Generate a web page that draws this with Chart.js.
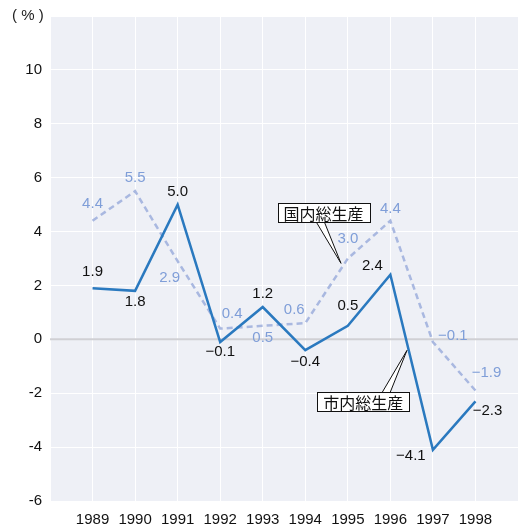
<!DOCTYPE html>
<html>
<head>
<meta charset="utf-8">
<script src="https://cdn.jsdelivr.net/npm/chart.js@4.4.1/dist/chart.umd.min.js"></script>
<style>
  html, body { margin: 0; padding: 0; background: #ffffff; }
  #wrap { width: 518px; height: 528px; position: relative; }
</style>
</head>
<body>
<div id="wrap"><canvas id="c" width="518" height="528"></canvas></div>
<script>
// ---- data ----
const years = [1989, 1990, 1991, 1992, 1993, 1994, 1995, 1996, 1997, 1998];
const cityGrowth = [1.9, 1.8, 5.0, -0.1, 1.2, -0.4, 0.5, 2.4, -4.1, -2.3];      // 市内総生産
const nationalGrowth = [4.4, 5.5, 2.9, 0.4, 0.5, 0.6, 3.0, 4.4, -0.1, -1.9];    // 国内総生産
const seriesNames = ['市内総生産', '国内総生産'];
const yTicks = [-6, -4, -2, 0, 2, 4, 6, 8, 10];
const unitLabel = '( % )';

// label offsets (pixels) relative to each point
const cityLabelOffsets = [[0,-16],[0,11],[0,-13],[0,10],[0,-13],[0,12],[0,-20],[-18,-9],[-22,6],[12,10]];
const natLabelOffsets  = [[0,-17],[0,-13],[-8,17],[12,-15],[0,12],[-11,-13],[0,-20],[0,-12],[20,-6],[11,-18]];

const FONT = '"Liberation Sans", Arial, sans-serif';
const JFONT = '"Noto Sans CJK JP", sans-serif';

const labelPlugin = {
  id: 'valueLabels',
  afterDatasetsDraw(chart) {
    const ctx = chart.ctx;
    ctx.save();
    ctx.font = '15px ' + FONT;
    ctx.textAlign = 'center';
    ctx.textBaseline = 'middle';
    const draw = (dsIndex, offsets, color) => {
      const meta = chart.getDatasetMeta(dsIndex);
      const data = chart.data.datasets[dsIndex].data;
      meta.data.forEach((pt, i) => {
        const v = data[i].y;
        const txt = (v < 0 ? '\u2212' : '') + Math.abs(v).toFixed(1);
        ctx.fillStyle = color;
        ctx.fillText(txt, pt.x + offsets[i][0], pt.y + offsets[i][1]);
      });
    };
    draw(1, natLabelOffsets, '#7f9ed8');
    draw(0, cityLabelOffsets, '#111111');
    ctx.restore();
  }
};

const bgPlugin = {
  id: 'plotBg',
  beforeDraw(chart) {
    const { ctx, chartArea: a } = chart;
    ctx.save();
    ctx.fillStyle = '#eef0f6';
    ctx.fillRect(a.left, a.top, a.right - a.left, a.bottom - a.top);
    ctx.restore();
  },
  afterDraw(chart) {
    const ctx = chart.ctx;
    ctx.save();
    ctx.font = '15px ' + FONT;
    ctx.fillStyle = '#222';
    ctx.textAlign = 'left';
    ctx.textBaseline = 'middle';
    ctx.fillText(unitLabel, 12, 16);
    ctx.restore();
  }
};

const zeroLinePlugin = {
  id: 'zeroLine',
  beforeDatasetsDraw(chart) {
    const { ctx, chartArea: a, scales } = chart;
    const y = scales.y.getPixelForValue(0);
    ctx.save();
    ctx.strokeStyle = '#d0d0d4';
    ctx.lineWidth = 2;
    ctx.beginPath();
    ctx.moveTo(a.left, y);
    ctx.lineTo(a.right, y);
    ctx.stroke();
    ctx.restore();
  }
};

// callouts: tip in data coordinates, box centre in data coordinates
const callouts = [
  { text: seriesNames[1], tip: [1994.84, 2.82], box: [1994.43, 4.70], base: [-7, 1], side: 'bottom' },
  { text: seriesNames[0], tip: [1996.39, -0.41], box: [1995.36, -2.30], base: [19, 27], side: 'top' }
];
const calloutPlugin = {
  id: 'callouts',
  afterDatasetsDraw(chart) {
    const { ctx, scales } = chart;
    ctx.save();
    ctx.font = '16px ' + JFONT;
    callouts.forEach(c => {
      const tx = scales.x.getPixelForValue(c.tip[0]);
      const ty = scales.y.getPixelForValue(c.tip[1]);
      const cx = scales.x.getPixelForValue(c.box[0]);
      const cy = scales.y.getPixelForValue(c.box[1]);
      const w = ctx.measureText(c.text).width + 12;
      const h = 19;
      const x0 = Math.round(cx - w / 2) + 0.5, y0 = Math.round(cy - h / 2) + 0.5;
      const by = c.side === 'bottom' ? y0 + h : y0;
      // pointer
      ctx.beginPath();
      ctx.moveTo(cx + c.base[0], by);
      ctx.lineTo(tx, ty);
      ctx.lineTo(cx + c.base[1], by);
      ctx.closePath();
      ctx.fillStyle = '#ffffff';
      ctx.fill();
      ctx.strokeStyle = '#111';
      ctx.lineWidth = 1;
      ctx.beginPath();
      ctx.moveTo(cx + c.base[0], by);
      ctx.lineTo(tx, ty);
      ctx.lineTo(cx + c.base[1], by);
      ctx.stroke();
      // box
      ctx.fillStyle = '#ffffff';
      ctx.fillRect(x0, y0, w, h);
      ctx.strokeRect(x0, y0, w, h);
      ctx.fillStyle = '#111';
      ctx.textAlign = 'center';
      ctx.textBaseline = 'middle';
      ctx.fillText(c.text, cx, y0 + h / 2 + 1);
    });
    ctx.restore();
  }
};

const toPts = arr => years.map((yr, i) => ({ x: yr, y: arr[i] }));

new Chart(document.getElementById('c'), {
  type: 'line',
  data: {
    datasets: [
      {
        label: seriesNames[0],
        data: toPts(cityGrowth),
        borderColor: '#2a79bf',
        borderWidth: 2.5,
        pointRadius: 0,
        tension: 0,
        fill: false,
        order: 0
      },
      {
        label: seriesNames[1],
        data: toPts(nationalGrowth),
        borderColor: '#a9b8e0',
        borderWidth: 2.5,
        borderDash: [6, 4],
        pointRadius: 0,
        tension: 0,
        fill: false,
        order: 1
      }
    ]
  },
  options: {
    responsive: false,
    animation: false,
    events: [],
    layout: { padding: { top: 16, right: 0, left: 0, bottom: 0 } },
    plugins: { legend: { display: false }, tooltip: { enabled: false } },
    scales: {
      x: {
        type: 'linear',
        min: 1988,
        max: 1999,
        afterBuildTicks: s => { s.ticks = [1988].concat(years, [1999]).map(v => ({ value: v })); },
        afterFit: s => { s.height = 27; s.paddingLeft = 0; s.paddingRight = 0; },
        grid: { color: '#ffffff', lineWidth: 1, drawTicks: false },
        border: { display: false },
        ticks: {
          padding: 10,
          color: '#111',
          font: { family: FONT, size: 15 },
          maxRotation: 0,
          autoSkip: false,
          callback: v => (years.includes(v) ? String(v) : '')
        }
      },
      y: {
        min: -6,
        max: 12,
        afterBuildTicks: s => { s.ticks = yTicks.concat([12]).map(v => ({ value: v })); },
        afterFit: s => { s.width = 50; s.paddingTop = 0; s.paddingBottom = 0; },
        grid: { color: '#ffffff', lineWidth: 1, drawTicks: false },
        border: { display: false },
        ticks: {
          padding: 8,
          color: '#111',
          font: { family: FONT, size: 15 },
          callback: v => (yTicks.includes(v) ? String(v) : '')
        }
      }
    }
  },
  plugins: [bgPlugin, zeroLinePlugin, labelPlugin, calloutPlugin]
});
</script>
</body>
</html>
